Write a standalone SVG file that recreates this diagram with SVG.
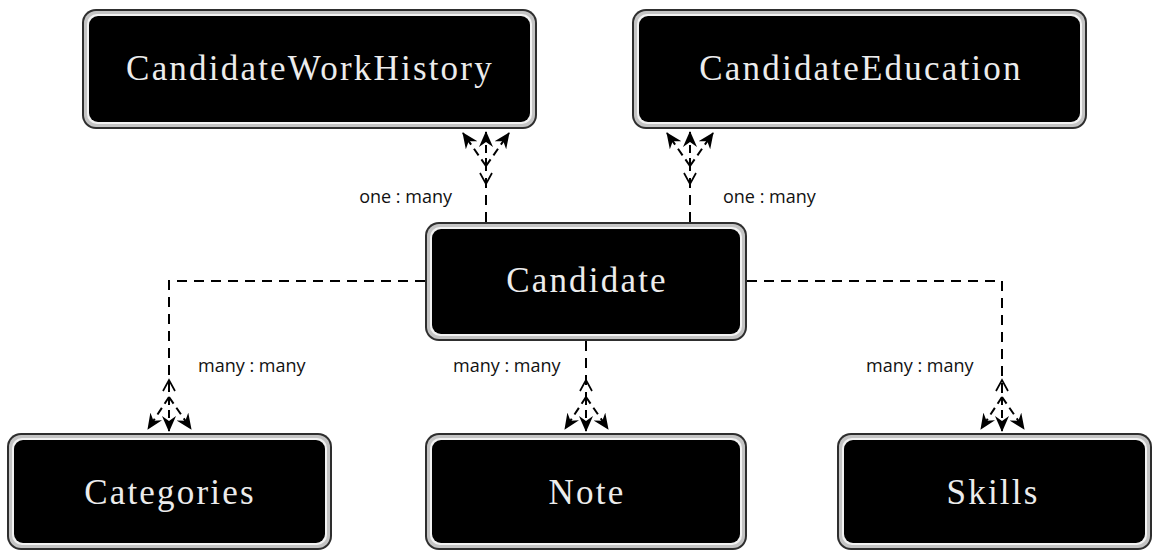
<svg xmlns="http://www.w3.org/2000/svg" width="1154" height="550" viewBox="0 0 1154 550">
<defs>
<style>
.frame{fill:#2e2e2e}
.band{fill:#c4c4c4}
.hl{fill:#f2f2f2}
.core{fill:#000}
.name{font-family:"Liberation Serif",serif;font-size:35px;fill:#ececec;letter-spacing:2.2px;text-anchor:middle}
.lbl{font-family:"Open Sans","Liberation Sans",sans-serif;font-size:18px;fill:#111}
.dash{fill:none;stroke:#000;stroke-width:2;stroke-dasharray:10 7}
.fork{fill:none;stroke:#000;stroke-width:2;stroke-dasharray:8 5}
.chev{fill:none;stroke:#000;stroke-width:1.7}
</style>
<marker id="ah" viewBox="0 0 16 14" refX="15" refY="7" markerWidth="16" markerHeight="14" markerUnits="userSpaceOnUse" orient="auto">
<path d="M0,0 L16,7 L0,14 L5,7 z" fill="#000"/>
</marker>
</defs>
<rect width="1154" height="550" fill="#fff"/>

<g id="connectors">
<!-- CandidateWorkHistory -->
<path class="dash" d="M486,222 V166"/>
<polyline class="chev" points="480,173 486,184 492,173"/>
<path class="fork" d="M486,166 L463,133" marker-end="url(#ah)"/>
<path class="fork" d="M486,166 L486,132" marker-end="url(#ah)"/>
<path class="fork" d="M486,166 L509,133" marker-end="url(#ah)"/>
<!-- CandidateEducation -->
<path class="dash" d="M690,222 V166"/>
<polyline class="chev" points="684,173 690,184 696,173"/>
<path class="fork" d="M690,166 L667,133" marker-end="url(#ah)"/>
<path class="fork" d="M690,166 L690,132" marker-end="url(#ah)"/>
<path class="fork" d="M690,166 L713,133" marker-end="url(#ah)"/>
<!-- Categories -->
<path class="dash" d="M425,281 H169 V397"/>
<polyline class="chev" points="163,391 169,380 175,391"/>
<path class="fork" d="M169,397 L148,429" marker-end="url(#ah)"/>
<path class="fork" d="M169,397 L169,431" marker-end="url(#ah)"/>
<path class="fork" d="M169,397 L191,429" marker-end="url(#ah)"/>
<!-- Note -->
<path class="dash" d="M586,341 V397"/>
<polyline class="chev" points="580,391 586,380 592,391"/>
<path class="fork" d="M586,397 L565,429" marker-end="url(#ah)"/>
<path class="fork" d="M586,397 L586,431" marker-end="url(#ah)"/>
<path class="fork" d="M586,397 L608,429" marker-end="url(#ah)"/>
<!-- Skills -->
<path class="dash" d="M747,281 H1002 V397"/>
<polyline class="chev" points="996,391 1002,380 1008,391"/>
<path class="fork" d="M1002,397 L981,429" marker-end="url(#ah)"/>
<path class="fork" d="M1002,397 L1002,431" marker-end="url(#ah)"/>
<path class="fork" d="M1002,397 L1024,429" marker-end="url(#ah)"/>
<!-- labels -->
<text class="lbl" x="452" y="203" text-anchor="end">one : many</text>
<text class="lbl" x="723" y="203">one : many</text>
<text class="lbl" x="198" y="372">many : many</text>
<text class="lbl" x="453" y="372">many : many</text>
<text class="lbl" x="866" y="372">many : many</text>
</g>

<g id="node-workhistory">
<rect class="frame" x="82" y="9" width="455" height="120" rx="14"/>
<rect class="band" x="84" y="11" width="451" height="116" rx="12"/>
<rect class="hl" x="87" y="14" width="445" height="110" rx="10"/>
<rect class="core" x="89" y="16" width="441" height="106" rx="9"/>
<text class="name" x="310" y="80">CandidateWorkHistory</text>
</g>

<g id="node-education">
<rect class="frame" x="632" y="9" width="455" height="120" rx="14"/>
<rect class="band" x="634" y="11" width="451" height="116" rx="12"/>
<rect class="hl" x="637" y="14" width="445" height="110" rx="10"/>
<rect class="core" x="639" y="16" width="441" height="106" rx="9"/>
<text class="name" x="861" y="80">CandidateEducation</text>
</g>

<g id="node-candidate">
<rect class="frame" x="425" y="222" width="322" height="119" rx="14"/>
<rect class="band" x="427" y="224" width="318" height="115" rx="12"/>
<rect class="hl" x="430" y="227" width="312" height="109" rx="10"/>
<rect class="core" x="432" y="229" width="308" height="105" rx="9"/>
<text class="name" x="587" y="292">Candidate</text>
</g>

<g id="node-categories">
<rect class="frame" x="7" y="433" width="325" height="117" rx="14"/>
<rect class="band" x="9" y="435" width="321" height="113" rx="12"/>
<rect class="hl" x="12" y="438" width="315" height="107" rx="10"/>
<rect class="core" x="14" y="440" width="311" height="103" rx="9"/>
<text class="name" x="170" y="504">Categories</text>
</g>

<g id="node-note">
<rect class="frame" x="425" y="433" width="322" height="117" rx="14"/>
<rect class="band" x="427" y="435" width="318" height="113" rx="12"/>
<rect class="hl" x="430" y="438" width="312" height="107" rx="10"/>
<rect class="core" x="432" y="440" width="308" height="103" rx="9"/>
<text class="name" x="587" y="504">Note</text>
</g>

<g id="node-skills">
<rect class="frame" x="837" y="433" width="315" height="117" rx="14"/>
<rect class="band" x="839" y="435" width="311" height="113" rx="12"/>
<rect class="hl" x="842" y="438" width="305" height="107" rx="10"/>
<rect class="core" x="844" y="440" width="301" height="103" rx="9"/>
<text class="name" x="993" y="504">Skills</text>
</g>
</svg>
